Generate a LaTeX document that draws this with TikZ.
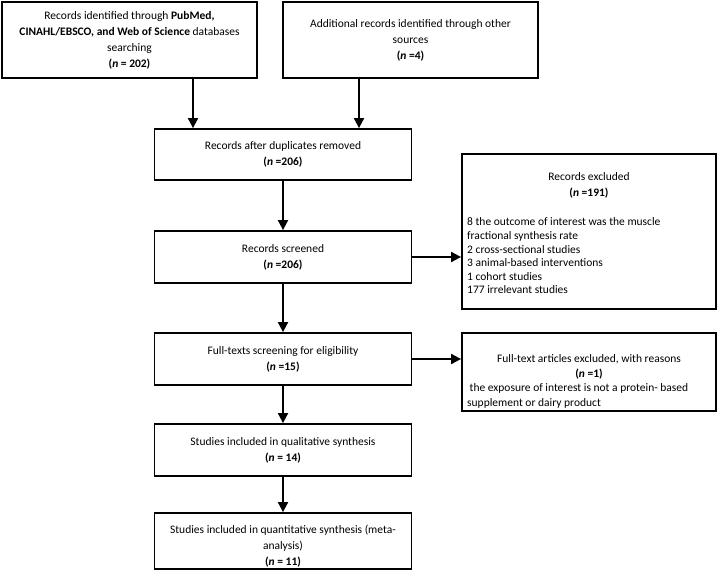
\documentclass[tikz,border=0pt]{standalone}
\usepackage{fontspec}
\setmainfont{Carlito}
\usetikzlibrary{arrows.meta}
\begin{document}
\begin{tikzpicture}[x=1pt,y=-1pt,
  box/.style={draw, line width=1.8pt, inner sep=0pt, align=center,
    font=\fontsize{11.5}{16}\selectfont},
  txt/.style={inner sep=0pt, align=center, font=\fontsize{11.5}{16}\selectfont},
  listtxt/.style={inner sep=0pt, align=left, font=\fontsize{11.5}{13.6}\selectfont},
  arr/.style={line width=1.8pt, -{Triangle[length=10pt,width=10pt]}}]
\useasboundingbox (0,0) rectangle (719,579);
% main column
\node[box, minimum width=255pt, minimum height=76pt] (b1) at (129.5,40)
  {Records identified through \textbf{PubMed,}\\
   \textbf{CINAHL/EBSCO, and Web of Science} databases\\
   searching\\
   \textbf{(\textit{n} = 202)}};
\node[box, minimum width=255pt, minimum height=76pt] (b2) at (410.5,40)
  {Additional records identified through other\\
   sources\\
   \textbf{(\textit{n} =4)}};
\node[box, minimum width=257pt, minimum height=51pt] (b3) at (283,154.5)
  {Records after duplicates removed\\ \textbf{(\textit{n} =206)}};
\node[box, minimum width=257pt, minimum height=52pt] (b4) at (283,257)
  {Records screened\\ \textbf{(\textit{n} =206)}};
\node[box, minimum width=257pt, minimum height=52pt] (b5) at (283,359)
  {Full-texts screening for eligibility\\ \textbf{(\textit{n} =15)}};
\node[box, minimum width=257pt, minimum height=52pt] (b6) at (283,450)
  {Studies included in qualitative synthesis\\ \textbf{(\textit{n} = 14)}};
\node[box, minimum width=257pt, minimum height=56pt] (b7) at (283,541) {};
\node[txt] (b7t) at (283,546)
  {Studies included in quantitative synthesis (meta-\\ analysis)\\ \textbf{(\textit{n} = 11)}};
% exclusion boxes
\node[box, minimum width=254pt, minimum height=155pt] (e1) at (589,231.5) {};
\node[txt] (e1h) at (589,185) {Records excluded\\ \textbf{(\textit{n} =191)}};
\node[listtxt, anchor=west] (e1l) at (467,256)
  {8 the outcome of interest was the muscle\\
   fractional synthesis rate\\
   2 cross-sectional studies\\
   3 animal-based interventions\\
   1 cohort studies\\
   177 irrelevant studies};
\node[box, minimum width=254pt, minimum height=78pt] (e2) at (589,372) {};
\node[txt, font=\fontsize{11.5}{15}\selectfont] (e2h) at (589,366.5)
  {Full-text articles excluded, with reasons\\ \textbf{(\textit{n} =1)}};
\node[listtxt, anchor=west, font=\fontsize{11.5}{14.5}\selectfont] (e2l) at (467,396)
  {\hspace*{2.5pt}the exposure of interest is not a protein- based\\
   supplement or dairy product};
% connectors
\coordinate (c1) at (193,0);
\coordinate (c2) at (359,0);
\draw[arr] (b1.south -| c1) -- (b3.north -| c1);
\draw[arr] (b2.south -| c2) -- (b3.north -| c2);
\draw[arr] (b3) -- (b4);
\draw[arr] (b4) -- (b5);
\draw[arr] (b5) -- (b6);
\draw[arr] (b6) -- (b7);
\draw[arr] (b4.east) -- (e1.west |- b4.east);
\draw[arr] (b5.east) -- (e2.west |- b5.east);
\end{tikzpicture}
\end{document}
